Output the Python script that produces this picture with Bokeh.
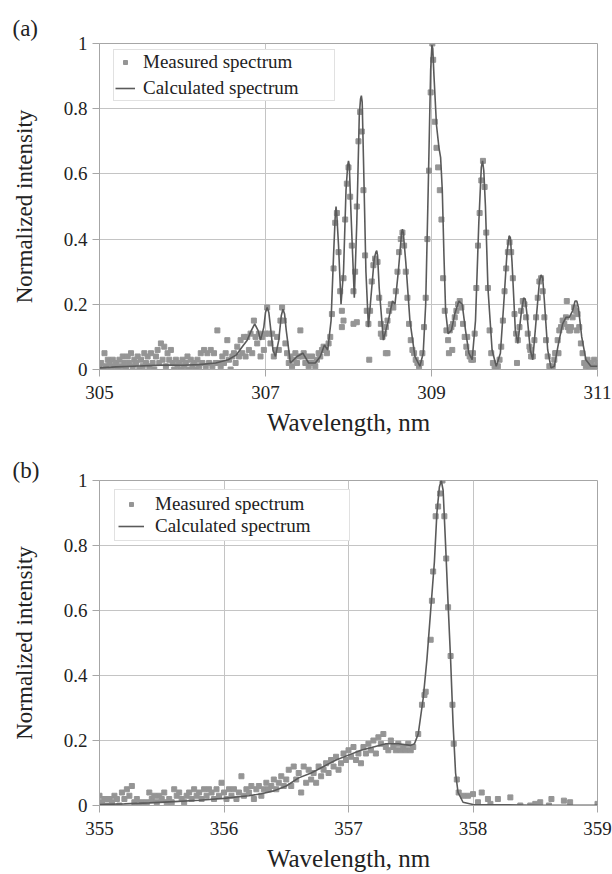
from bokeh.plotting import figure
from bokeh.layouts import column
from bokeh.models import (Range1d, FixedTicker, CustomJSTickFormatter, Legend,
                          LegendItem, Title)
from bokeh.embed import file_html
from bokeh.resources import INLINE

# ---------------- panel (a) data ----------------
a_x_ticks = [305, 307, 309, 311]
y_ticks = [0, 0.2, 0.4, 0.6, 0.8, 1]

calc_a_x = [305.00, 305.20, 305.40, 305.60, 305.80, 306.00, 306.20, 306.40, 306.55, 306.65,
            306.72, 306.78, 306.83, 306.87, 306.91, 306.94, 306.98, 307.00, 307.02, 307.04,
            307.06, 307.09, 307.12, 307.16, 307.19, 307.21, 307.23, 307.25, 307.30, 307.38,
            307.45, 307.52, 307.60, 307.66, 307.71, 307.75, 307.79, 307.82, 307.84, 307.85,
            307.86, 307.88, 307.91, 307.94, 307.97, 307.99, 308.00, 308.01, 308.03, 308.07,
            308.10, 308.13, 308.145, 308.155, 308.165, 308.18, 308.21, 308.24, 308.27, 308.31,
            308.33, 308.34, 308.35, 308.37, 308.42, 308.48, 308.53, 308.56, 308.60, 308.64,
            308.65, 308.66, 308.69, 308.74, 308.80, 308.86, 308.90, 308.93, 308.96, 308.99,
            309.005, 309.015, 309.03, 309.06, 309.09, 309.11, 309.13, 309.15, 309.17, 309.20,
            309.24, 309.28, 309.33, 309.37, 309.41, 309.45, 309.49, 309.53, 309.57, 309.60,
            309.615, 309.63, 309.65, 309.68, 309.73, 309.78, 309.83, 309.87, 309.91, 309.935,
            309.95, 309.97, 310.01, 310.04, 310.08, 310.11, 310.13, 310.15, 310.19, 310.22,
            310.26, 310.30, 310.32, 310.34, 310.36, 310.40, 310.44, 310.48, 310.53, 310.58,
            310.62, 310.66, 310.70, 310.73, 310.75, 310.77, 310.81, 310.86, 310.92, 311.00]
calc_a_y = [0.005, 0.008, 0.010, 0.012, 0.014, 0.013, 0.015, 0.020, 0.030, 0.045,
            0.070, 0.090, 0.120, 0.140, 0.120, 0.090, 0.130, 0.175, 0.190, 0.175,
            0.130, 0.060, 0.040, 0.090, 0.165, 0.185, 0.170, 0.120, 0.020, 0.040,
            0.050, 0.020, 0.020, 0.040, 0.075, 0.060, 0.150, 0.350, 0.470, 0.500,
            0.470, 0.380, 0.200, 0.300, 0.550, 0.625, 0.640, 0.625, 0.480, 0.220,
            0.450, 0.780, 0.830, 0.840, 0.820, 0.650, 0.300, 0.130, 0.220, 0.340,
            0.360, 0.365, 0.350, 0.250, 0.090, 0.150, 0.210, 0.200, 0.300, 0.420,
            0.430, 0.420, 0.330, 0.150, 0.040, 0.010, 0.050, 0.200, 0.550, 0.920,
            0.995, 0.985, 0.900, 0.750, 0.680, 0.650, 0.550, 0.350, 0.180, 0.110,
            0.120, 0.170, 0.210, 0.200, 0.120, 0.050, 0.030, 0.150, 0.450, 0.620,
            0.640, 0.610, 0.500, 0.250, 0.060, 0.010, 0.050, 0.200, 0.360, 0.410,
            0.405, 0.330, 0.120, 0.080, 0.170, 0.220, 0.215, 0.170, 0.060, 0.030,
            0.150, 0.270, 0.290, 0.280, 0.210, 0.060, 0.005, 0.010, 0.080, 0.140,
            0.160, 0.160, 0.180, 0.210, 0.210, 0.190, 0.100, 0.030, 0.010, 0.010]

meas_a_x = [305.00, 305.02, 305.04, 305.06, 305.08, 305.10, 305.12, 305.14, 305.16, 305.18,
            305.20, 305.22, 305.24, 305.26, 305.28, 305.30, 305.32, 305.34, 305.36, 305.38,
            305.40, 305.42, 305.44, 305.46, 305.48, 305.50, 305.52, 305.54, 305.56, 305.58,
            305.60, 305.62, 305.64, 305.66, 305.68, 305.70, 305.72, 305.74, 305.76, 305.78,
            305.80, 305.82, 305.84, 305.86, 305.88, 305.90, 305.92, 305.94, 305.96, 305.98,
            306.00, 306.02, 306.04, 306.06, 306.08, 306.10, 306.12, 306.14, 306.16, 306.18,
            306.20, 306.22, 306.24, 306.26, 306.28, 306.30, 306.32, 306.34, 306.36, 306.38,
            306.40, 306.42, 306.44, 306.46, 306.48, 306.50, 306.52, 306.54, 306.56, 306.58,
            306.60, 306.62, 306.64, 306.66, 306.68, 306.70, 306.72, 306.74, 306.76, 306.78,
            306.80, 306.82, 306.84, 306.86, 306.88, 306.90, 306.92, 306.94, 306.96, 306.98,
            307.00, 307.02, 307.04, 307.06, 307.08, 307.10, 307.12, 307.14, 307.16, 307.18,
            307.20, 307.22, 307.24, 307.26, 307.28, 307.30, 307.32, 307.34, 307.36, 307.38,
            307.40, 307.42, 307.44, 307.46, 307.48, 307.50, 307.52, 307.54, 307.56, 307.58,
            307.60, 307.62, 307.64, 307.66, 307.68, 307.70, 307.72, 307.74, 307.76, 307.78,
            307.80, 307.82, 307.84, 307.86, 307.88, 307.90, 307.92, 307.94, 307.96, 307.98,
            308.00, 308.02, 308.04, 308.06, 308.08, 308.10, 308.12, 308.14, 308.16, 308.18,
            308.20, 308.22, 308.24, 308.26, 308.28, 308.30, 308.32, 308.35, 308.37, 308.39,
            308.41, 308.43, 308.45, 308.47, 308.49, 308.51, 308.54, 308.57, 308.59, 308.61,
            308.63, 308.65, 308.67, 308.69, 308.71, 308.73, 308.75, 308.77, 308.79, 308.81,
            308.83, 308.85, 308.87, 308.89, 308.91, 308.93, 308.95, 308.97, 308.99, 309.01,
            309.02, 309.04, 309.06, 309.08, 309.10, 309.12, 309.14, 309.16, 309.18, 309.20,
            309.22, 309.24, 309.26, 309.28, 309.30, 309.32, 309.34, 309.36, 309.38, 309.40,
            309.42, 309.44, 309.46, 309.48, 309.50, 309.52, 309.54, 309.56, 309.58, 309.60,
            309.62, 309.64, 309.66, 309.68, 309.70, 309.72, 309.74, 309.76, 309.78, 309.80,
            309.82, 309.84, 309.86, 309.88, 309.90, 309.92, 309.94, 309.96, 309.98, 310.00,
            310.02, 310.04, 310.06, 310.08, 310.10, 310.12, 310.14, 310.16, 310.18, 310.20,
            310.22, 310.24, 310.26, 310.28, 310.30, 310.32, 310.34, 310.36, 310.38, 310.40,
            310.42, 310.44, 310.46, 310.48, 310.50, 310.52, 310.54, 310.56, 310.58, 310.60,
            310.62, 310.64, 310.66, 310.68, 310.70, 310.72, 310.74, 310.76, 310.78, 310.80,
            310.82, 310.84, 310.86, 310.88, 310.90, 310.92, 310.94, 310.96, 310.98, 311.00,
            307.92, 307.94, 308.06, 308.10, 308.25, 308.39, 308.45, 308.47, 309.21, 309.25,
            309.43, 309.50, 310.03, 310.19, 310.49, 310.53, 310.63, 310.67, 310.75]
meas_a_y = [0.01, 0.02, 0.00, 0.05, 0.01, 0.03, 0.02, 0.00, 0.03, 0.01,
            0.02, 0.00, 0.03, 0.01, 0.04, 0.02, 0.00, 0.04, 0.02, 0.05,
            0.01, 0.03, 0.02, 0.04, 0.00, 0.03, 0.01, 0.05, 0.02, 0.04,
            0.01, 0.05, 0.02, 0.00, 0.04, 0.06, 0.02, 0.08, 0.03, 0.07,
            0.01, 0.05, 0.03, 0.06, 0.02, 0.00, 0.03, 0.01, 0.02, 0.00,
            0.03, 0.01, 0.02, 0.04, 0.00, 0.03, 0.01, 0.02, 0.00, 0.03,
            0.01, 0.05, 0.02, 0.06, 0.01, 0.05, 0.02, 0.06, 0.01, 0.05,
            0.02, 0.12, 0.02, 0.01, 0.04, 0.02, 0.05, 0.09, 0.03, 0.00,
            0.04, 0.05, 0.02, 0.07, 0.04, 0.09, 0.05, 0.10, 0.04, 0.10,
            0.06, 0.11, 0.05, 0.15, 0.10, 0.08, 0.11, 0.04, 0.10, 0.06,
            0.11, 0.19, 0.11, 0.08, 0.11, 0.04, 0.06, 0.10, 0.06, 0.15,
            0.19, 0.15, 0.08, 0.05, 0.02, 0.04, 0.01, 0.03, 0.05, 0.02,
            0.04, 0.12, 0.04, 0.05, 0.02, 0.04, 0.01, 0.02, 0.04, 0.02,
            0.01, 0.03, 0.05, 0.04, 0.06, 0.07, 0.06, 0.05, 0.08, 0.10,
            0.17, 0.31, 0.45, 0.48, 0.36, 0.24, 0.18, 0.28, 0.46, 0.57,
            0.62, 0.53, 0.38, 0.24, 0.30, 0.50, 0.70, 0.79, 0.73, 0.55,
            0.35, 0.18, 0.14, 0.18, 0.27, 0.32, 0.34, 0.33, 0.22, 0.14,
            0.10, 0.11, 0.13, 0.15, 0.18, 0.20, 0.19, 0.24, 0.30, 0.36,
            0.40, 0.42, 0.38, 0.30, 0.22, 0.14, 0.09, 0.06, 0.05, 0.03,
            0.02, 0.01, 0.02, 0.05, 0.13, 0.22, 0.40, 0.61, 0.85, 1.00,
            0.95, 0.76, 0.68, 0.62, 0.55, 0.46, 0.28, 0.18, 0.12, 0.09,
            0.12, 0.13, 0.14, 0.16, 0.18, 0.20, 0.21, 0.19, 0.14, 0.10,
            0.07, 0.05, 0.04, 0.03, 0.05, 0.11, 0.25, 0.38, 0.48, 0.58,
            0.64, 0.56, 0.42, 0.25, 0.12, 0.05, 0.02, 0.01, 0.01, 0.01,
            0.03, 0.07, 0.15, 0.24, 0.31, 0.36, 0.39, 0.36, 0.28, 0.17,
            0.11, 0.09, 0.13, 0.18, 0.21, 0.20, 0.16, 0.11, 0.07, 0.04,
            0.04, 0.09, 0.16, 0.22, 0.27, 0.28, 0.24, 0.16, 0.09, 0.04,
            0.01, 0.00, 0.01, 0.03, 0.05, 0.09, 0.12, 0.13, 0.15, 0.14,
            0.16, 0.13, 0.12, 0.13, 0.16, 0.19, 0.18, 0.17, 0.13, 0.08,
            0.05, 0.02, 0.01, 0.03, 0.01, 0.02, 0.00, 0.03, 0.01, 0.02,
            0.13, 0.15, 0.14, 0.145, 0.03, 0.11, 0.05, 0.05, 0.05, 0.06,
            0.10, 0.03, 0.02, 0.06, 0.05, 0.05, 0.21, 0.12, 0.12]

# ---------------- panel (b) data ----------------
b_x_ticks = [355, 356, 357, 358, 359]

calc_b_x = [355.00, 355.20, 355.40, 355.60, 355.80, 356.00, 356.10, 356.20, 356.30, 356.40,
            356.50, 356.60, 356.70, 356.80, 356.90, 357.00, 357.10, 357.20, 357.30, 357.40,
            357.50, 357.53, 357.56, 357.60, 357.63, 357.66, 357.69, 357.71, 357.73, 357.745,
            357.76, 357.78, 357.80, 357.82, 357.84, 357.86, 357.88, 357.92, 358.00, 358.50,
            359.00]
calc_b_y = [0.003, 0.005, 0.008, 0.012, 0.016, 0.022, 0.026, 0.030, 0.036, 0.045,
            0.060, 0.085, 0.100, 0.120, 0.140, 0.155, 0.170, 0.180, 0.190, 0.190,
            0.185, 0.190, 0.220, 0.330, 0.450, 0.600, 0.750, 0.900, 0.980, 1.000,
            0.970, 0.800, 0.620, 0.450, 0.250, 0.100, 0.040, 0.010, 0.003, 0.001,
            0.001]

meas_b_x = [355.00, 355.02, 355.04, 355.06, 355.08, 355.10, 355.12, 355.14, 355.16, 355.18,
            355.20, 355.22, 355.24, 355.26, 355.28, 355.30, 355.32, 355.34, 355.36, 355.38,
            355.40, 355.42, 355.44, 355.46, 355.48, 355.50, 355.52, 355.54, 355.56, 355.58,
            355.60, 355.62, 355.64, 355.66, 355.68, 355.70, 355.72, 355.74, 355.76, 355.78,
            355.80, 355.82, 355.84, 355.86, 355.88, 355.90, 355.92, 355.94, 355.96, 355.98,
            356.00, 356.02, 356.04, 356.06, 356.08, 356.10, 356.12, 356.14, 356.16, 356.18,
            356.20, 356.22, 356.24, 356.26, 356.28, 356.30, 356.32, 356.34, 356.36, 356.38,
            356.40, 356.42, 356.44, 356.46, 356.48, 356.50, 356.52, 356.54, 356.56, 356.58,
            356.60, 356.62, 356.64, 356.66, 356.68, 356.70, 356.72, 356.74, 356.76, 356.78,
            356.80, 356.82, 356.84, 356.86, 356.88, 356.90, 356.92, 356.94, 356.96, 356.98,
            357.00, 357.02, 357.04, 357.06, 357.08, 357.10, 357.12, 357.14, 357.16, 357.18,
            357.20, 357.22, 357.24, 357.26, 357.28, 357.30, 357.32, 357.34, 357.36, 357.38,
            357.40, 357.42, 357.44, 357.46, 357.48, 357.50, 357.52, 357.56, 357.59, 357.61,
            357.62, 357.66, 357.67, 357.68, 357.70, 357.72, 357.735, 357.755, 357.77, 357.785,
            357.80, 357.82, 357.835, 357.845, 357.87, 357.885, 357.92, 357.96, 358.00, 358.04,
            358.07, 358.12, 358.14, 358.20, 358.30, 358.38, 358.46, 358.50, 358.54, 358.61,
            358.63, 358.73, 358.78, 359.00]
meas_b_y = [0.03, 0.01, 0.02, 0.00, 0.02, 0.01, 0.03, 0.02, 0.00, 0.04,
            0.02, 0.05, 0.03, 0.06, 0.01, 0.02, 0.00, 0.01, 0.00, 0.01,
            0.04, 0.02, 0.03, 0.01, 0.03, 0.02, 0.04, 0.01, 0.02, 0.01,
            0.05, 0.03, 0.04, 0.02, 0.01, 0.03, 0.04, 0.02, 0.05, 0.03,
            0.04, 0.02, 0.05, 0.03, 0.05, 0.04, 0.02, 0.05, 0.03, 0.07,
            0.04, 0.02, 0.05, 0.03, 0.05, 0.02, 0.04, 0.09, 0.03, 0.05,
            0.04, 0.06, 0.02, 0.05, 0.06, 0.03, 0.05, 0.07, 0.05, 0.06,
            0.08, 0.05, 0.07, 0.09, 0.06, 0.08, 0.11, 0.06, 0.12, 0.08,
            0.10, 0.04, 0.12, 0.07, 0.11, 0.08, 0.10, 0.07, 0.12, 0.09,
            0.11, 0.13, 0.10, 0.14, 0.12, 0.15, 0.11, 0.13, 0.16, 0.14,
            0.17, 0.15, 0.18, 0.14, 0.16, 0.13, 0.18, 0.16, 0.19, 0.17,
            0.20, 0.16, 0.21, 0.19, 0.22, 0.18, 0.17, 0.20, 0.18, 0.17,
            0.19, 0.17, 0.18, 0.17, 0.19, 0.17, 0.18, 0.22, 0.31, 0.34,
            0.35, 0.51, 0.63, 0.72, 0.89, 0.92, 0.96, 1.00, 0.89, 0.76,
            0.61, 0.46, 0.31, 0.19, 0.08, 0.04, 0.03, 0.03, 0.035, 0.01,
            0.04, 0.02, 0.005, 0.02, 0.025, 0.00, 0.00, 0.005, 0.01, 0.00,
            0.02, 0.015, 0.01, 0.005]

# ---------------- styling ----------------
FONT = "Liberation Serif"
GRID = "#c4c4c4"
AXIS = "#a6a6a6"
MARK = "#959595"
LINE = "#5a5a5a"
TXT = "#222222"


def make_panel(xr, xticks, cx, cy, mx, my, height, top, bottom, tag, tag_standoff,
               leg_loc, leg_pad, leg_glyph_w, leg_standoff, leg_spacing, leg_label_w):
    title = Title(text=tag, align="left", offset=-87, standoff=tag_standoff,
                  text_font=FONT, text_font_size="23px", text_font_style="normal",
                  text_color=TXT)
    p = figure(width=612, height=height, output_backend="svg", toolbar_location=None,
               x_range=Range1d(*xr), y_range=Range1d(0, 1), title=title,
               min_border_left=99, min_border_right=15,
               min_border_top=top, min_border_bottom=bottom)
    p.outline_line_color = AXIS
    p.background_fill_color = "white"
    p.border_fill_color = "white"

    p.xaxis.ticker = FixedTicker(ticks=xticks)
    p.yaxis.ticker = FixedTicker(ticks=y_ticks)
    p.yaxis.formatter = CustomJSTickFormatter(code="return String(Math.round(tick*10)/10)")
    p.xaxis.formatter = CustomJSTickFormatter(code="return String(Math.round(tick))")
    for ax in (p.xaxis[0], p.yaxis[0]):
        ax.axis_line_color = AXIS
        ax.major_tick_line_color = AXIS
        ax.major_tick_out = 7
        ax.major_tick_in = 0
        ax.minor_tick_line_color = None
        ax.major_label_text_font = FONT
        ax.major_label_text_font_size = "19px"
        ax.major_label_text_color = TXT
        ax.axis_label_text_font = FONT
        ax.axis_label_text_font_style = "normal"
        ax.axis_label_text_color = TXT
    p.xaxis.axis_label = "Wavelength, nm"
    p.yaxis.axis_label = "Normalized intensity"
    p.xaxis.axis_label_text_font_size = "25px"
    p.yaxis.axis_label_text_font_size = "23px"
    p.yaxis.major_label_standoff = 5
    p.xaxis.major_label_standoff = 9
    p.yaxis.axis_label_standoff = 24
    p.xaxis.axis_label_standoff = 7

    p.xgrid.grid_line_color = GRID
    p.ygrid.grid_line_color = GRID

    ln = p.line(cx, cy, line_color=LINE, line_width=1.6)
    sc = p.scatter(mx, my, marker="square", size=5, fill_color=MARK, line_color=MARK)
    p.renderers = [sc, ln]

    leg = Legend(items=[LegendItem(label="Measured spectrum", renderers=[sc]),
                        LegendItem(label="Calculated spectrum", renderers=[ln])],
                 location=leg_loc, padding=leg_pad, spacing=leg_spacing,
                 glyph_width=leg_glyph_w, glyph_height=10, label_height=20,
                 label_width=leg_label_w, label_standoff=leg_standoff,
                 label_text_font=FONT, label_text_font_size="19px",
                 label_text_color=TXT, border_line_color=GRID,
                 background_fill_color="white", background_fill_alpha=1.0)
    p.add_layout(leg, "center")
    return p


pa = make_panel((305, 311), a_x_ticks, calc_a_x, calc_a_y, meas_a_x, meas_a_y,
                438, 43, 66, "(a)", 5, (14, 268), 1, 20, 8, 4, 190)
pb = make_panel((355, 359), b_x_ticks, calc_b_x, calc_b_y, meas_b_x, meas_b_y,
                436, 42, 64, "(b)", -5, (15, 264), 3, 26, 11, 0, 191)

layout = column(pa, pb, spacing=0)
open("out.html", "w").write(file_html(layout, INLINE))
